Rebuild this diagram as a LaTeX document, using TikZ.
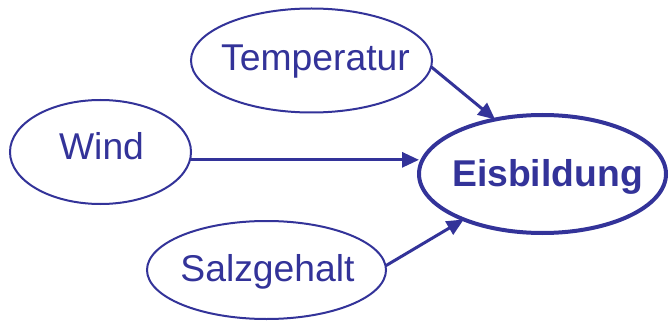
\documentclass[tikz,border=0pt]{standalone}
\usepackage{fontspec}
\setmainfont{Liberation Sans}
\usetikzlibrary{shapes.geometric,arrows.meta}
\definecolor{ink}{RGB}{51,51,153}
\newcommand\mytxt[3]{\makebox[0pt]{\hspace*{#1}\raisebox{#2}{#3}\hspace*{-#1}}}
\begin{document}
\begin{tikzpicture}[x=1pt,y=-1pt,
  ell/.style={ellipse, draw=ink, line width=2pt, outer sep=0pt, inner sep=0pt,
    text height=0pt, text depth=0pt, text=ink, font=\fontsize{37.3}{40}\selectfont},
  arr/.style={draw=ink, line width=3pt, -{Triangle[length=17pt,width=15pt]}}]
\useasboundingbox[fill=white] (0,0) rectangle (669,326);
\node[ell, minimum width=241pt, minimum height=104pt] (T) at (311.5,60.5) {\mytxt{4pt}{-10pt}{Temperatur}};
\node[ell, minimum width=181pt, minimum height=104pt] (W) at (100.5,152) {\mytxt{1pt}{-8pt}{Wind}};
\node[ell, minimum width=239pt, minimum height=98pt] (S) at (266.5,270) {\mytxt{1pt}{-11pt}{Salzgehalt}};
\node[ell, line width=4pt, minimum width=247pt, minimum height=118pt, font=\fontsize{37.3}{40}\selectfont\bfseries] (E) at (542.5,174) {\mytxt{5pt}{-13pt}{Eisbildung}};
\draw[arr] (T.-3) -- (E.131);
\draw[arr] (W.-5) -- (W.-5 -| E.west);
\draw[arr] (S.2) -- (E.210);
\end{tikzpicture}
\end{document}
